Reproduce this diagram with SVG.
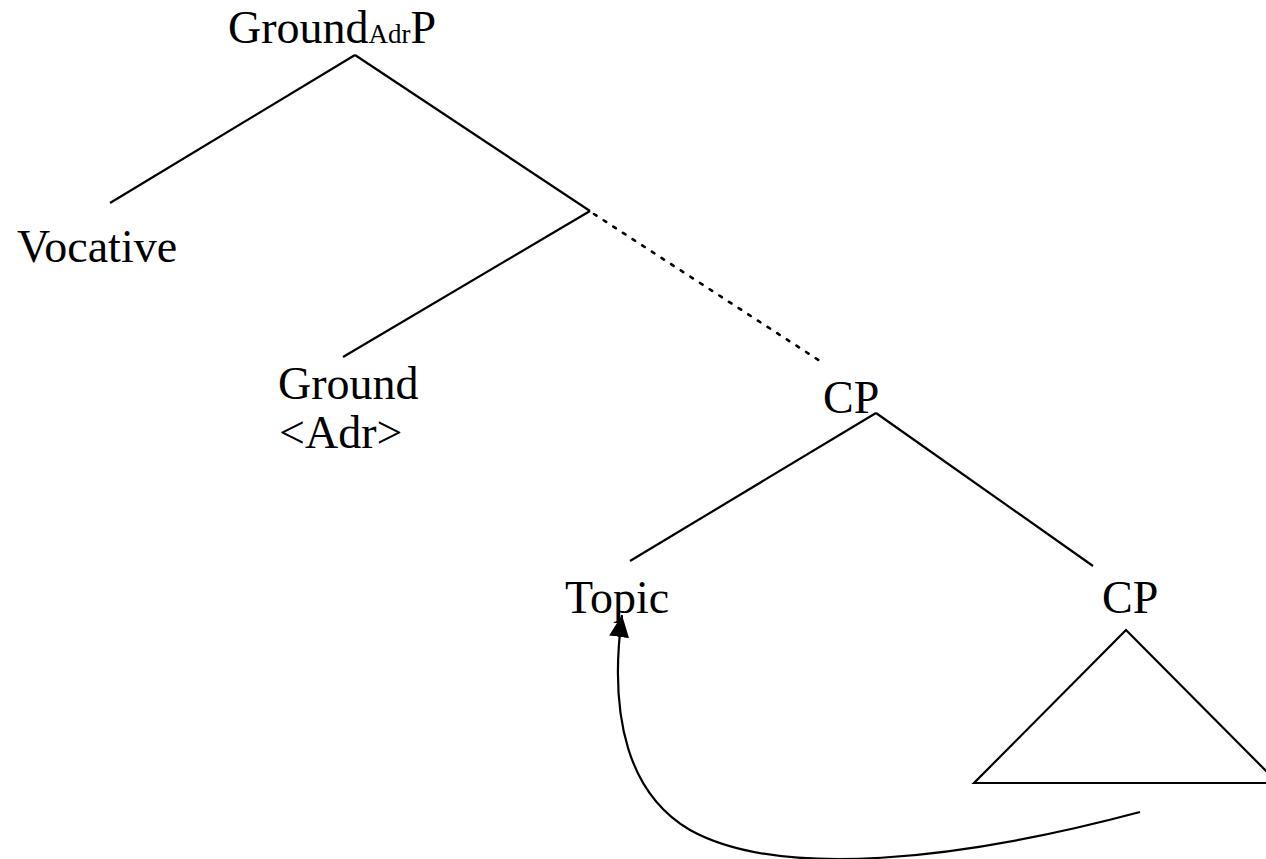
<svg xmlns="http://www.w3.org/2000/svg" width="1266" height="859" viewBox="0 0 1266 859">
<style>
text{font-family:"Liberation Serif","Times New Roman",serif;font-size:46px;fill:#000}
.sub{font-size:27px}
.e{stroke:#000;stroke-width:2.2;fill:none}
.dot{stroke:#000;stroke-width:2.6;fill:none;stroke-dasharray:3 8.5;stroke-linecap:round}
</style>
<defs>
<marker id="ah" markerUnits="userSpaceOnUse" markerWidth="24" markerHeight="24" viewBox="0 -12 24 24" refX="22" refY="0" orient="auto">
<path d="M0,-10 L22,0 L0,10 z" fill="#000"/>
</marker>
</defs>
<rect width="1266" height="859" fill="#fff"/>
<g id="connectors">
<line class="e" x1="355" y1="55" x2="110" y2="203"/>
<line class="e" x1="355" y1="55" x2="590" y2="211"/>
<line class="e" x1="590" y1="211" x2="343" y2="357"/>
<line class="dot" x1="594" y1="214" x2="823" y2="363"/>
<line class="e" x1="876" y1="413" x2="630" y2="561"/>
<line class="e" x1="876" y1="413" x2="1093" y2="566"/>
<path class="e" d="M1140,812 C960,860 780,880 690,830 C630,795 608,720 622,615" marker-end="url(#ah)"/>
</g>
<g id="n-groundadrp"><text x="228" y="43">Ground<tspan class="sub">Adr</tspan>P</text></g>
<g id="n-vocative"><text x="17" y="262">Vocative</text></g>
<g id="n-ground"><text x="278" y="399">Ground</text><text x="279" y="448">&lt;Adr&gt;</text></g>
<g id="n-cp1"><text x="823" y="413">CP</text></g>
<g id="n-topic"><text x="565" y="613">Topic</text></g>
<g id="n-cp2"><text x="1102" y="613">CP</text></g>
<g id="n-triangle"><polygon class="e" points="1126,630 974,783 1278,783"/></g>
</svg>
